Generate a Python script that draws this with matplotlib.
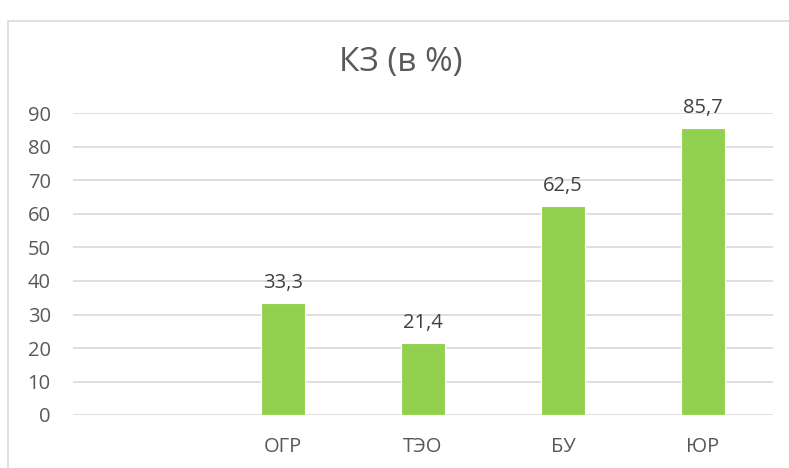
import matplotlib.pyplot as plt
from matplotlib.patches import Rectangle
import numpy as np

# data
categories = ["", "ОГР", "ТЭО", "БУ", "ЮР"]
values = [np.nan, 33.3, 21.4, 62.5, 85.7]
labels = ["", "33,3", "21,4", "62,5", "85,7"]
yticks = [0, 10, 20, 30, 40, 50, 60, 70, 80, 90]

plt.rcParams['font.family'] = ['Open Sans', 'DejaVu Sans']
txt = '#595959'

fig = plt.figure(figsize=(7.89, 4.68), dpi=100)
# outer chart border like excel
fig.patches.append(Rectangle((8/789, -0.1), 1.1, (468-21)/468 + 0.1, transform=fig.transFigure,
                             fill=False, edgecolor='#d9d9d9', linewidth=1.2))

ax = fig.add_axes([73/789, 53/468, 700/789, 301.5/468])
x = np.arange(len(categories))
ax.bar(x, values, width=0.31, color='#92D050', edgecolor='white', linewidth=0.8, zorder=3)
for xi, v, lab in zip(x, values, labels):
    if lab:
        ax.text(xi, v + 3.0, lab, ha='center', va='bottom', fontsize=14.5, color='#404040')

ax.set_xlim(-0.5, len(categories) - 0.5)
ax.set_ylim(0, 90)
ax.set_yticks(yticks)
ax.set_xticks(x)
ax.set_xticklabels(categories)
ax.grid(axis='y', color='#d9d9d9', linewidth=1.2, zorder=0)
for s in ax.spines.values():
    s.set_visible(False)
ax.tick_params(axis='both', length=0, labelsize=14.5, labelcolor=txt)
ax.tick_params(axis='y', pad=16)
ax.tick_params(axis='x', pad=16)

fig.text(401/789, 1 - 62/468, "КЗ (в %)", ha='center', va='center', fontsize=24, color=txt)

fig.savefig('out.png', dpi=100)
